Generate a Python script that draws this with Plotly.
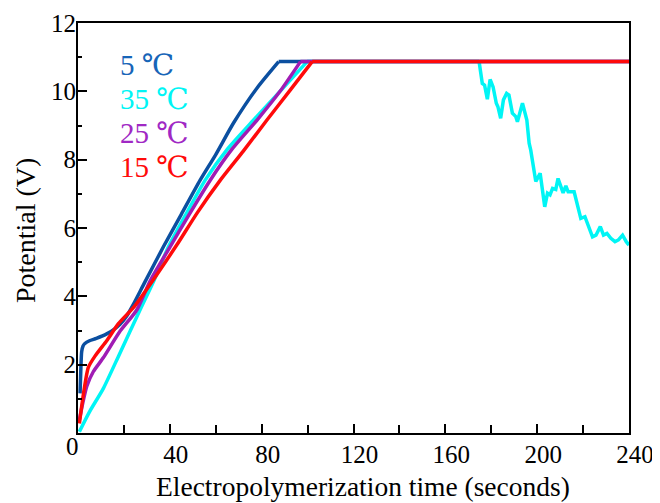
import plotly.graph_objects as go

# ---- data ----
plateau_v = 10.87
t_end = 240.0

t_5C = [0.9, 1.2, 1.6, 2.2, 3.0, 5.0, 8.0, 12.5, 16.0, 18.3, 21.0, 24.0, 29.0, 37.2, 45.0, 53.2, 60.0, 67.8, 78.0, 87.4]
v_5C = [1.16, 1.8, 2.38, 2.55, 2.62, 2.7, 2.77, 2.9, 3.05, 3.18, 3.4, 3.75, 4.4, 5.45, 6.4, 7.4, 8.15, 9.08, 10.1, 10.87]

t_15C = [0.6, 2.5, 4.5, 7.4, 12.5, 17.6, 24.5, 33.5, 43.0, 52.0, 62.0, 72.0, 82.3, 92.0, 102.0]
v_15C = [0.28, 1.2, 1.92, 2.25, 2.7, 3.2, 3.7, 4.55, 5.5, 6.45, 7.4, 8.25, 9.16, 10.0, 10.87]

t_25C = [0.6, 2.0, 3.8, 6.7, 11.0, 18.0, 25.6, 31.4, 40.1, 48.0, 57.6, 67.0, 78.0, 88.0, 96.9]
v_25C = [0.38, 0.85, 1.36, 1.8, 2.2, 2.95, 3.6, 4.45, 5.45, 6.35, 7.4, 8.3, 9.16, 10.0, 10.87]

t_35C = [0.6, 5.0, 11.0, 18.0, 27.0, 33.0, 39.4, 47.0, 55.4, 65.0, 76.5, 88.0, 99.8]
v_35C = [0.04, 0.62, 1.3, 2.3, 3.6, 4.45, 5.45, 6.4, 7.4, 8.3, 9.16, 10.0, 10.87]

# cyan (35 C) drop after the plateau
t_35C_drop = [174.7, 176.1, 177.1, 178.3, 179.5, 180.8, 182.2, 182.9, 184.1, 185.3, 186.7, 187.7, 189.2, 190.7,
              191.4, 193.6, 195.5, 196.5, 197.2, 198.4, 199.4, 201.3, 203.3, 204.5, 205.6, 206.7, 208.1,
              209.1, 210.3, 211.3, 212.5, 213.5, 216.1, 217.6, 219.0, 220.8, 222.6, 224.1, 225.6, 227.5,
              228.9, 230.4, 232.1, 233.9, 235.4, 237.2, 238.8, 240.0]
v_35C_drop = [10.87, 10.23, 10.18, 9.77, 10.35, 10.13, 9.65, 9.55, 9.21, 9.75, 9.94, 9.89, 9.36, 9.26,
              9.11, 9.65, 9.16, 8.48, 8.28, 7.7, 7.36, 7.6, 6.62, 7.02, 6.97, 7.16, 7.13,
              7.45, 7.21, 7.03, 7.23, 7.06, 7.06, 6.62, 6.28, 6.33, 6.04, 5.74, 5.79, 6.04,
              5.79, 5.84, 5.70, 5.60, 5.65, 5.79, 5.60, 5.50]

legend_labels = ["5 ℃", "35 ℃", "25 ℃", "15 ℃"]
legend_y = [10.77, 9.77, 8.78, 7.78]
x_tickvals = [0, 40, 80, 120, 160, 200, 240]
x_ticktext = ["", "40", "80", "120", "160", "200", "240"]
y_tickvals = [0, 2, 4, 6, 8, 10, 12]
y_ticktext = ["", "2", "4", "6", "8", "10", "12"]

# ---- styles ----
C_BLUE = "#0b4fa0"
C_CYAN = "#00f5f5"
C_PURPLE = "#a01cb4"
C_RED = "#ff0a0a"
FONT = "Liberation Serif, DejaVu Serif, Times New Roman, serif"
LW = 3.5

# page body has an 8px margin: figure is drawn at (8, 8) in the window
FIG_W, FIG_H = 652, 495
ML, MR, MT, MB = 70, 31, 15, 70
PW = FIG_W - ML - MR
PH = FIG_H - MT - MB


def px_x(screen_x):
    return (screen_x - 8 - ML) / PW


def px_y(screen_y):
    return (FIG_H - MB - (screen_y - 8)) / PH


fig = go.Figure()


def add_line(x, y, col, shape):
    fig.add_trace(go.Scatter(x=x, y=y, mode="lines",
                             line=dict(color=col, width=LW, shape=shape, smoothing=0.6),
                             showlegend=False, hoverinfo="skip"))


# cyan first (underneath)
add_line(t_35C, v_35C, C_CYAN, "spline")
add_line([t_35C[-1], t_35C_drop[0]], [plateau_v, plateau_v], C_CYAN, "linear")
add_line(t_35C_drop, v_35C_drop, C_CYAN, "linear")
for tx, vy, col in [(t_5C, v_5C, C_BLUE), (t_25C, v_25C, C_PURPLE), (t_15C, v_15C, C_RED)]:
    add_line(tx, vy, col, "spline")
    add_line([tx[-1], t_end], [plateau_v, plateau_v], col, "linear")

text_cols = ["#1765b8", "#00f5f5", "#a028c4", "#ff0a0a"]
for lab, col, yy in zip(legend_labels, text_cols, legend_y):
    fig.add_annotation(x=17.6, y=yy, xref="x", yref="y", text=lab, showarrow=False,
                       xanchor="left", yanchor="middle",
                       font=dict(family=FONT, size=29, color=col))

# shared origin label
fig.add_annotation(x=px_x(72), y=px_y(446.5), xref="paper", yref="paper", text="0",
                   showarrow=False, xanchor="center", yanchor="middle",
                   font=dict(family=FONT, size=25, color="black"))

# axis titles as annotations (exact placement)
fig.add_annotation(x=px_x(363), y=px_y(486.5), xref="paper", yref="paper",
                   text="Electropolymerization time (seconds)", showarrow=False,
                   xanchor="center", yanchor="middle",
                   font=dict(family=FONT, size=27.5, color="black"))
fig.add_annotation(x=px_x(25), y=px_y(231), xref="paper", yref="paper",
                   text="Potential (V)", showarrow=False, textangle=-90,
                   xanchor="center", yanchor="middle",
                   font=dict(family=FONT, size=28, color="black"))

axis_common = dict(
    showline=True, linecolor="black", linewidth=2, mirror=True,
    ticks="inside", ticklen=9, tickwidth=1.5, tickcolor="black",
    showgrid=False, zeroline=False, automargin=False,
    tickfont=dict(family=FONT, size=25, color="black"),
)
fig.update_xaxes(range=[0, 240], tickvals=x_tickvals, ticktext=x_ticktext,
                 minor=dict(tickvals=[20, 60, 100, 140, 180, 220], ticks="inside", ticklen=8,
                            tickwidth=1.5, tickcolor="black"),
                 ticklabelstandoff=-2, ticklabelshift=6,
                 **axis_common)
fig.update_yaxes(range=[0, 12], tickvals=y_tickvals, ticktext=y_ticktext,
                 minor=dict(tickvals=[1, 3, 5, 7, 9, 11], ticks="inside", ticklen=4,
                            tickwidth=1.5, tickcolor="black"),
                 ticklabelstandoff=-5,
                 **axis_common)

fig.update_layout(width=FIG_W, height=FIG_H, plot_bgcolor="white", paper_bgcolor="white",
                  margin=dict(l=ML, r=MR, t=MT, b=MB, autoexpand=False))
fig.write_html("out.html")
